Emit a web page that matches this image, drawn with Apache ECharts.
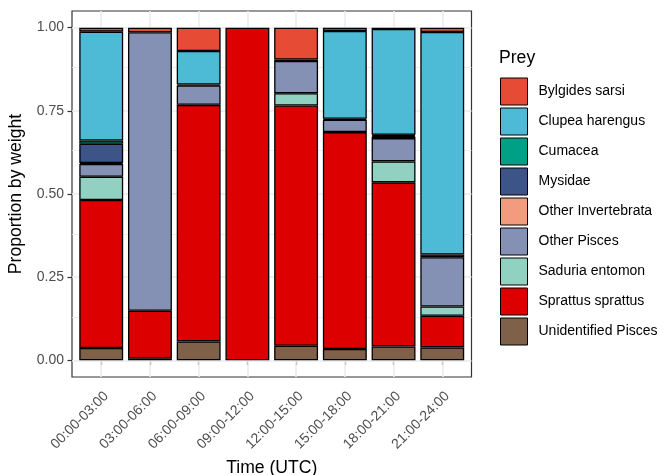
<!DOCTYPE html>
<html><head><meta charset="utf-8">
<script src="https://cdn.jsdelivr.net/npm/echarts@6/dist/echarts.min.js"></script>
<style>html,body{margin:0;padding:0;background:#fff}#c{width:663px;height:475px}</style>
</head><body><div id="c"></div>
<script>
const categories = ['00:00-03:00','03:00-06:00','06:00-09:00','09:00-12:00','12:00-15:00','15:00-18:00','18:00-21:00','21:00-24:00'];
const yTicks = [0, 0.25, 0.5, 0.75, 1];
const yMinor = [0.125, 0.375, 0.625, 0.875];
// series, listed in legend order (top of stack first)
const bylgides      = [0.012, 0.014, 0.070, null, 0.096, 0.010, 0.004, 0.013];
const clupea        = [0.327, null, 0.101, null, null, 0.264, 0.318, 0.669];
const cumacea       = [0.010, null, null, null, null, null, 0.003, null];
const mysidae       = [0.058, null, 0.003, null, 0.004, 0.003, 0.003, 0.008];
const otherInv      = [0.003, null, null, null, null, null, 0.004, null];
const otherPisces   = [0.038, 0.837, 0.058, null, 0.097, 0.037, 0.070, 0.148];
const saduria       = [0.070, null, null, null, 0.037, null, 0.063, 0.028];
const sprattus      = [0.445, 0.144, 0.711, 1.000, 0.722, 0.652, 0.493, 0.095];
const unidentified  = [0.037, 0.005, 0.057, null, 0.044, 0.034, 0.042, 0.039];

const seriesDefs = [
  ['Unidentified Pisces', unidentified, '#7E6148'],
  ['Sprattus sprattus', sprattus, '#DC0000'],
  ['Saduria entomon', saduria, '#91D1C2'],
  ['Other Pisces', otherPisces, '#8491B4'],
  ['Other Invertebrata', otherInv, '#F39B7F'],
  ['Mysidae', mysidae, '#3C5488'],
  ['Cumacea', cumacea, '#00A087'],
  ['Clupea harengus', clupea, '#4DBBD5'],
  ['Bylgides sarsi', bylgides, '#E64B35']
];
const legendOrder = ['Bylgides sarsi','Clupea harengus','Cumacea','Mysidae','Other Invertebrata','Other Pisces','Saduria entomon','Sprattus sprattus','Unidentified Pisces'];
const catPos = categories.map((c, i) => i + 1);

const font = 'Liberation Sans, Arial, sans-serif';
const series = seriesDefs.map(([name, vals, color]) => ({
  name, type: 'bar', stack: 'all', barWidth: 43.9, z: 3,
  encode: { x: 1, y: 0 },
  itemStyle: { color, borderColor: '#000', borderWidth: 1.3 },
  data: vals.map((v, i) => [v, catPos[i]])
}));
series.push({
  type: 'line', data: [], z: 1, silent: true,
  markLine: {
    z: 1, silent: true, symbol: 'none', animation: false,
    label: { show: false },
    data: [
      ...yMinor.map(v => ({ yAxis: v, lineStyle: { color: '#EBEBEB', width: 0.8, type: 'solid' } })),
      ...yTicks.map(v => ({ yAxis: v, lineStyle: { color: '#EBEBEB', width: 1.6, type: 'solid' } })),
      ...catPos.map(v => ({ xAxis: v, lineStyle: { color: '#EBEBEB', width: 1.6, type: 'solid' } }))
    ]
  }
});

const chart = echarts.init(document.getElementById('c'), null, { renderer: 'canvas' });
chart.setOption({
  animation: false,
  backgroundColor: '#fff',
  textStyle: { fontFamily: font },
  title: { text: 'Prey', left: 499, top: 49, padding: 0, textStyle: { fontFamily: font, fontSize: 17.6, fontWeight: 'normal', color: '#000' } },
  legend: {
    orient: 'vertical', left: 500, top: 77.5, padding: 0, itemWidth: 27, itemHeight: 27, itemGap: 2,
    icon: 'rect', data: legendOrder,
    textStyle: { fontFamily: font, fontSize: 14, color: '#000', padding: [0, 0, 0, 6] },
    itemStyle: { borderColor: '#000', borderWidth: 1 }
  },
  grid: { left: 72, right: 191.5, top: 11, bottom: 98, containLabel: false, outerBoundsMode: 'none', show: true, backgroundColor: '#fff', borderColor: '#333', borderWidth: 1.2 },
  xAxis: {
    type: 'value', min: 0.4, max: 8.6,
    name: 'Time (UTC)', nameLocation: 'middle', nameGap: 80,
    nameTextStyle: { fontFamily: font, fontSize: 17.6, color: '#000' },
    axisLine: { show: false },
    axisTick: { show: true, length: 4.5, lineStyle: { color: '#333', width: 1.2 }, customValues: catPos },
    axisLabel: { customValues: catPos, rotate: 45, margin: 12, align: 'right', verticalAlign: 'top', fontFamily: font, fontSize: 14, color: '#4D4D4D', formatter: v => categories[Math.round(v) - 1] || '' },
    splitLine: { show: false }
  },
  yAxis: {
    type: 'value', min: -0.05, max: 1.05,
    name: 'Proportion by weight', nameLocation: 'middle', nameGap: 47,
    nameTextStyle: { fontFamily: font, fontSize: 17.6, color: '#000' },
    axisLine: { show: false },
    axisTick: { show: true, length: 4.5, lineStyle: { color: '#333', width: 1.2 }, customValues: yTicks },
    axisLabel: { customValues: yTicks, margin: 8, fontFamily: font, fontSize: 14, color: '#4D4D4D', formatter: v => v.toFixed(2) },
    splitLine: { show: false }
  },
  series
});
</script></body></html>
